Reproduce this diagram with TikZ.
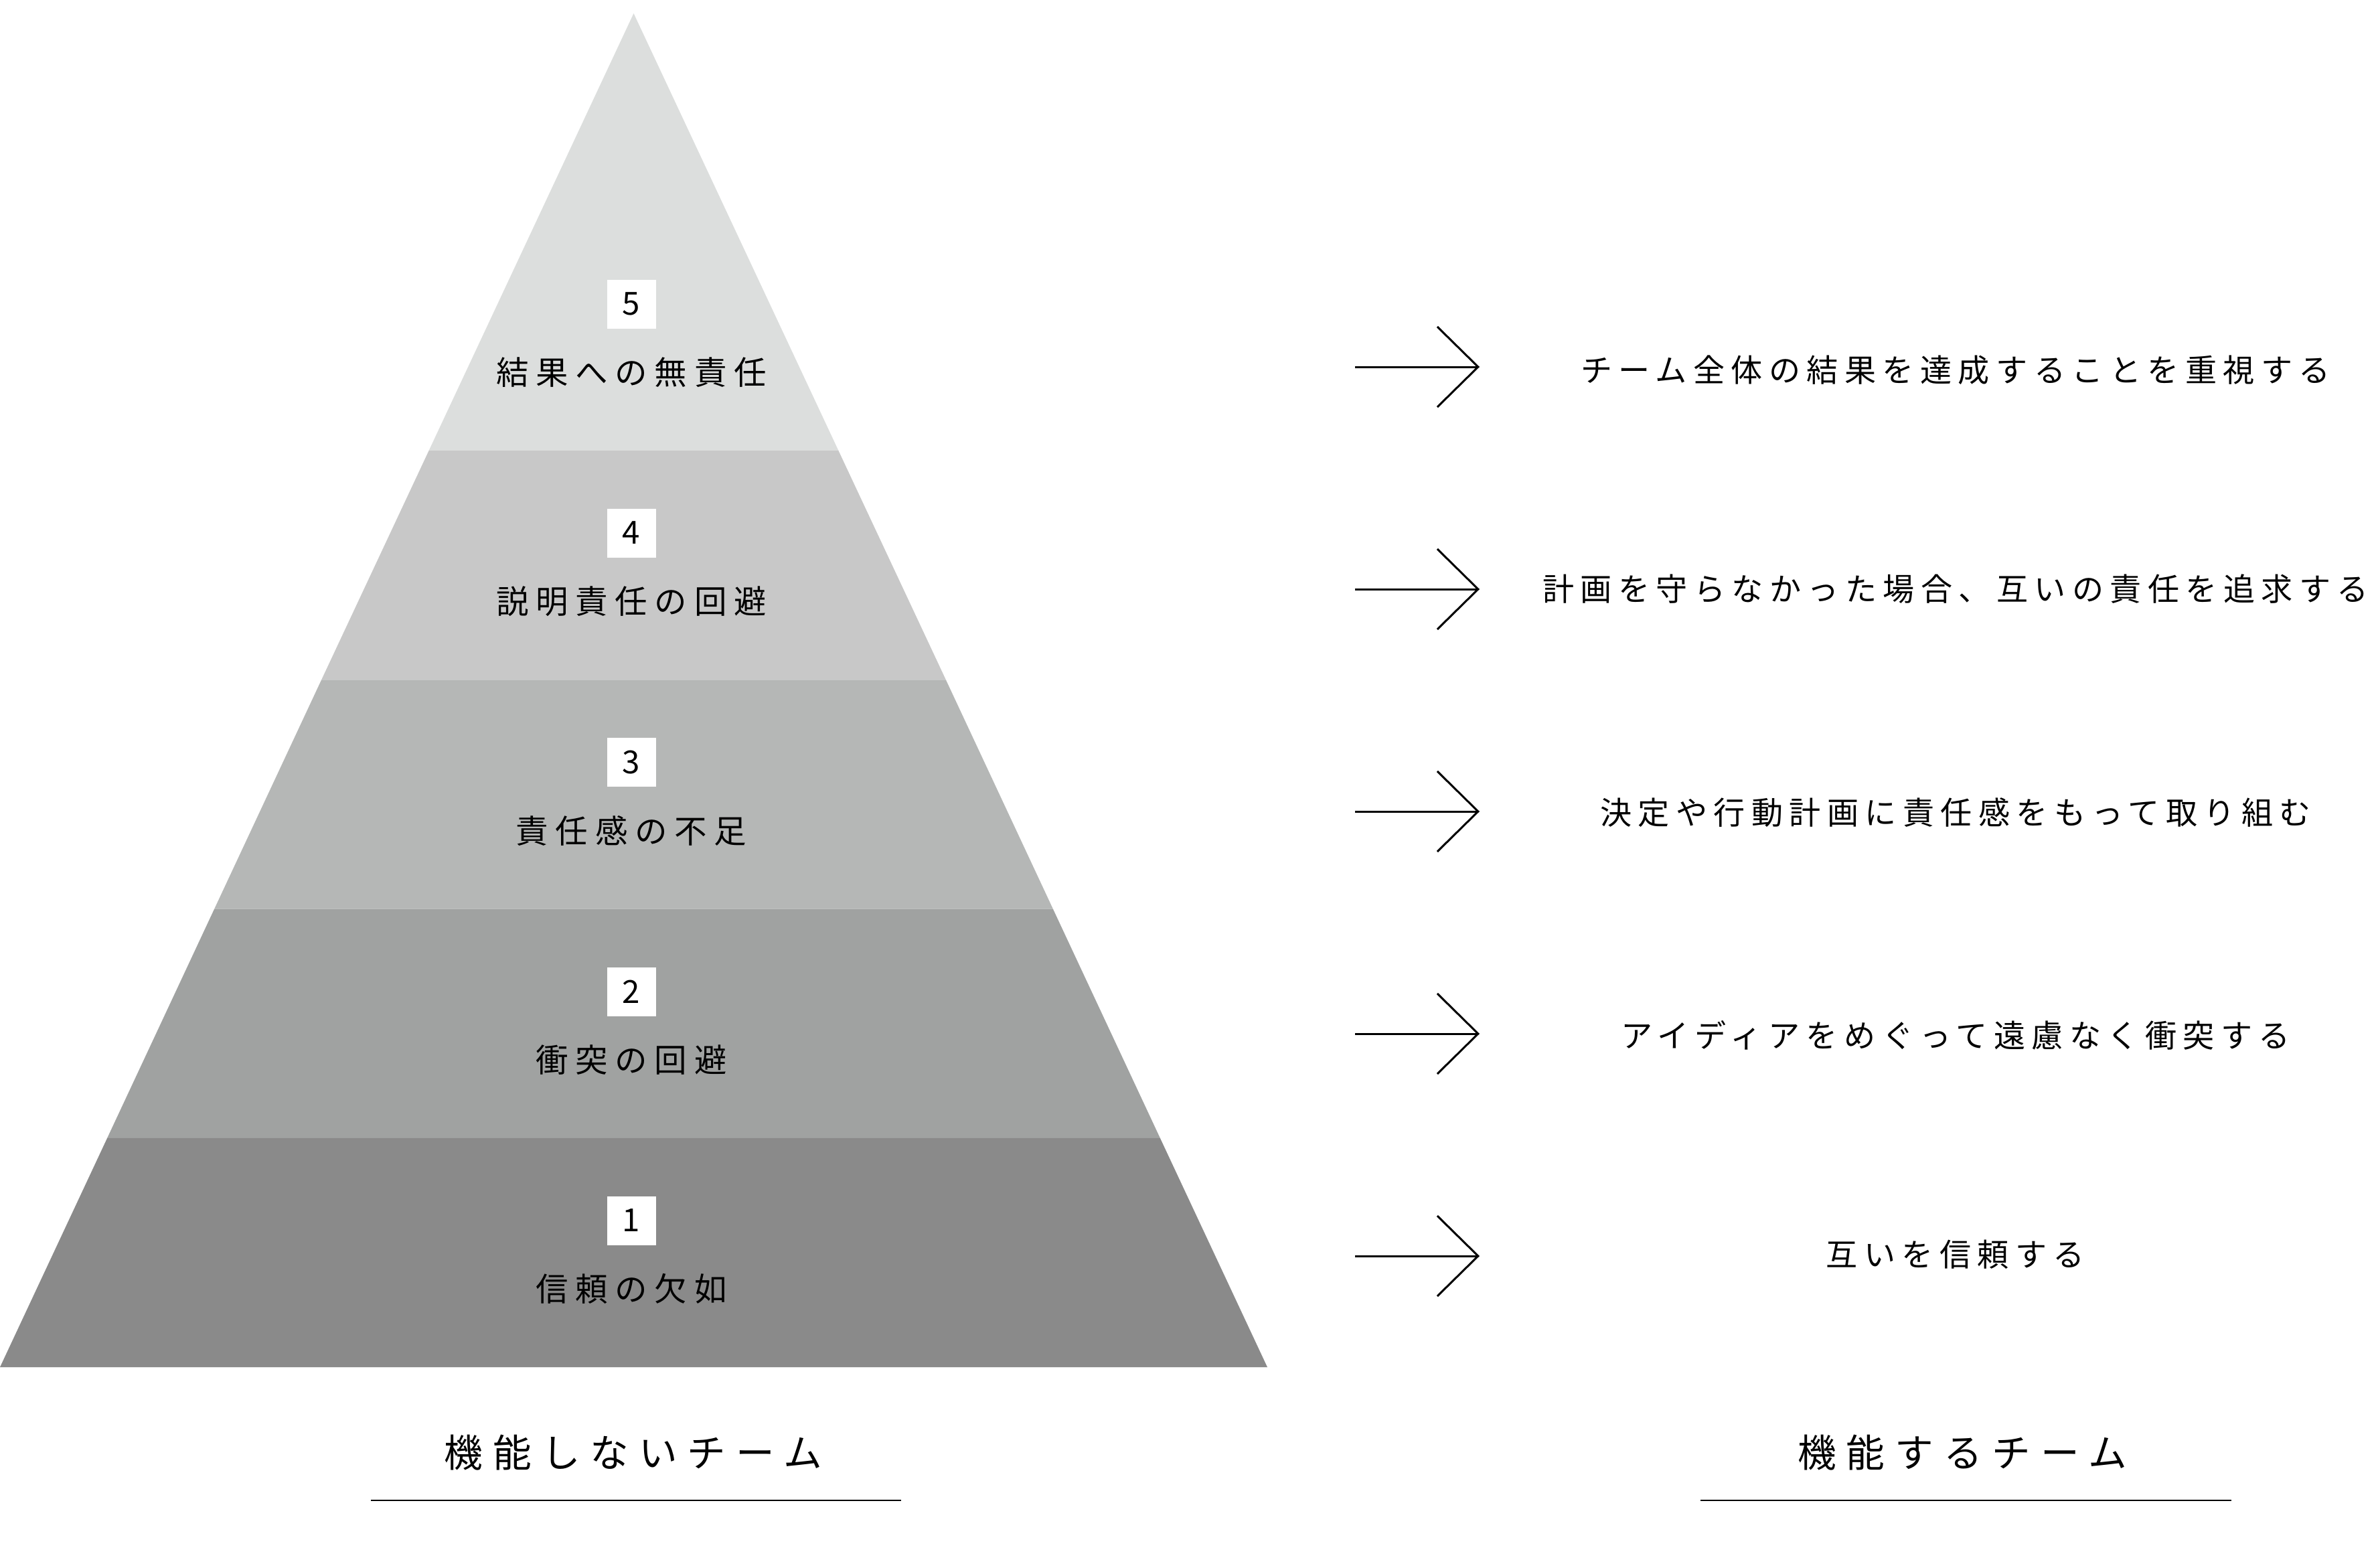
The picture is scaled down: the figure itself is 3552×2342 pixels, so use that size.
\documentclass[tikz,border=0pt]{standalone}
\usepackage{fontspec}
\newfontfamily\pyrfont[LetterSpace=22]{Noto Sans CJK JP}
\newfontfamily\resfont[LetterSpace=20]{Noto Sans CJK JP}
\newfontfamily\teamfont[LetterSpace=26]{Noto Sans CJK JP}
\newfontfamily\numfont{Noto Sans CJK JP}
\usetikzlibrary{arrows.meta}
\definecolor{lvlone}{HTML}{8A8A8A}
\definecolor{lvltwo}{HTML}{A0A2A1}
\definecolor{lvlthree}{HTML}{B5B7B6}
\definecolor{lvlfour}{HTML}{C8C8C8}
\definecolor{lvlfive}{HTML}{DCDEDD}
\begin{document}
\begin{tikzpicture}
  [x=0.1mm,y=-0.1mm,
   every node/.style={inner sep=0pt,text=black},
   num/.style={fill=white,minimum size=7.3mm,font=\numfont\fontsize{13.5}{16}\selectfont},
   lvl/.style={font=\pyrfont\fontsize{13.8}{16}\selectfont},
   res/.style={font=\resfont\fontsize{13.4}{16}\selectfont},
   teamlabel/.style={font=\teamfont\fontsize{16.4}{20}\selectfont},
   arr/.style={line width=0.3mm,-{Straight Barb[length=6.1mm,width=12mm]}},
   uline/.style={line width=0.2mm}]

  \useasboundingbox (0,0) rectangle (3552,2342);

  % pyramid
  \fill [lvlfive] (946.5,20) -- (640.6,673) -- (1252.4,673) -- cycle;
  \fill [lvlfour] (640.6,673) -- (1252.4,673) -- (1412.8,1015.25) -- (480.2,1015.25) -- cycle;
  \fill [lvlthree] (480.2,1015.25) -- (1412.8,1015.25) -- (1572.8,1357.5) -- (320.2,1357.5) -- cycle;
  \fill [lvltwo] (320.2,1357.5) -- (1572.8,1357.5) -- (1732.8,1699.75) -- (160.2,1699.75) -- cycle;
  \fill [lvlone] (160.2,1699.75) -- (1732.8,1699.75) -- (1893,2042) -- (0,2042) -- cycle;

  \node [num] (n5) at (943,454) {5};
  \node [lvl] (l5) at (943,556) {結果への無責任};
  \node [num] (n4) at (943,796) {4};
  \node [lvl] (l4) at (943,898) {説明責任の回避};
  \node [num] (n3) at (943,1138.5) {3};
  \node [lvl] (l3) at (943,1240.5) {責任感の不足};
  \node [num] (n2) at (943,1481) {2};
  \node [lvl] (l2) at (943,1583) {衝突の回避};
  \node [num] (n1) at (943,1823) {1};
  \node [lvl] (l1) at (943,1925) {信頼の欠如};

  % arrows
  \coordinate (a5s) at (2024,548);  \coordinate (a5e) at (2210,548);
  \coordinate (a4s) at (2024,880);  \coordinate (a4e) at (2210,880);
  \coordinate (a3s) at (2024,1212); \coordinate (a3e) at (2210,1212);
  \coordinate (a2s) at (2024,1544); \coordinate (a2e) at (2210,1544);
  \coordinate (a1s) at (2024,1876); \coordinate (a1e) at (2210,1876);
  \draw [arr] (a5s) -- (a5e);
  \draw [arr] (a4s) -- (a4e);
  \draw [arr] (a3s) -- (a3e);
  \draw [arr] (a2s) -- (a2e);
  \draw [arr] (a1s) -- (a1e);

  \node [res] (r5) at (2921,553) {チーム全体の結果を達成することを重視する};
  \node [res] (r4) at (2921,880) {計画を守らなかった場合、互いの責任を追求する};
  \node [res] (r3) at (2921,1214) {決定や行動計画に責任感をもって取り組む};
  \node [res] (r2) at (2921,1546) {アイディアをめぐって遠慮なく衝突する};
  \node [res] (r1) at (2921,1874) {互いを信頼する};

  % captions
  \node [teamlabel] (bad) at (946,2170) {機能しないチーム};
  \node [teamlabel] (good) at (2931,2170) {機能するチーム};
  \coordinate (badl) at (554,2241);   \coordinate (badr) at (1346,2241);
  \coordinate (goodl) at (2540,2241); \coordinate (goodr) at (3333,2241);
  \draw [uline] (badl) -- (badr);
  \draw [uline] (goodl) -- (goodr);
\end{tikzpicture}
\end{document}
